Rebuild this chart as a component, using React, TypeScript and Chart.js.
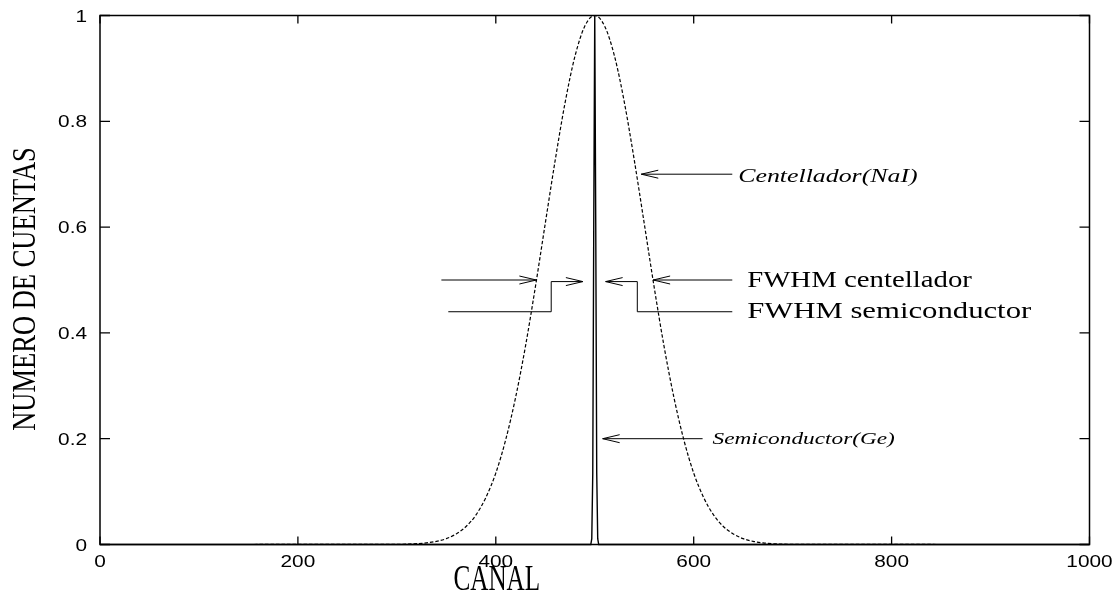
import React, { useEffect, useRef } from "react";
import { Chart, registerables } from "chart.js";

Chart.register(...registerables);

// ---- data ----
const naiChannels = [0, 300, 310, 320, 330, 340, 350, 360, 370, 380, 390, 400, 410, 420, 430, 440, 450, 460, 470, 480, 490, 500, 510, 520, 530, 540, 550, 560, 570, 580, 590, 600, 610, 620, 630, 640, 650, 660, 670, 680, 690, 700, 1000];
const naiCounts = [0, 0.0003, 0.0007, 0.0015, 0.0031, 0.006, 0.011, 0.02, 0.034, 0.056, 0.089, 0.135, 0.198, 0.278, 0.375, 0.487, 0.607, 0.726, 0.835, 0.923, 0.98, 1.0, 0.98, 0.923, 0.835, 0.726, 0.607, 0.487, 0.375, 0.278, 0.198, 0.135, 0.089, 0.056, 0.034, 0.02, 0.011, 0.006, 0.0031, 0.0015, 0.0007, 0.0003, 0];

const geChannels = [0, 490, 496, 497, 498, 499, 500, 501, 502, 503, 504, 510, 1000];
const geCounts = [0, 0, 0, 0.011, 0.135, 0.607, 1.0, 0.607, 0.135, 0.011, 0, 0, 0];

const xTicks = [0, 200, 400, 600, 800, 1000];
const xTickLabels = ["0", "200", "400", "600", "800", "1000"];
const yTicks = [0, 0.2, 0.4, 0.6, 0.8, 1];
const yTickLabels = ["0", "0.2", "0.4", "0.6", "0.8", "1"];

const xTitle = "CANAL";
const xTitleAt = 400;
const yTitle = "NUMERO DE CUENTAS";

// annotation arrows (polylines in data units, last point = arrow tip)
const arrowPaths: number[][][] = [
  [[345, 0.5], [441, 0.5]],
  [[639, 0.5], [559, 0.5]],
  [[352, 0.44], [456, 0.44], [456, 0.497], [488, 0.497]],
  [[639, 0.44], [543, 0.44], [543, 0.497], [511, 0.497]],
  [[639, 0.7], [547, 0.7]],
  [[609, 0.2], [508, 0.2]],
];

// annotation labels
const noteTexts = ["Centellador(NaI)", "Semiconductor(Ge)", "FWHM centellador", "FWHM semiconductor"];
const noteAnchors: number[][] = [[645, 0.685], [619, 0.19], [654, 0.487], [654, 0.428]];
const noteStyles = [
  { font: "italic 19px 'Liberation Serif'", sx: 1.36 },
  { font: "italic 17px 'Liberation Serif'", sx: 1.37 },
  { font: "24px 'Liberation Serif'", sx: 1.2 },
  { font: "24px 'Liberation Serif'", sx: 1.28 },
];

function drawScaledText(
  ctx: CanvasRenderingContext2D,
  text: string,
  x: number,
  y: number,
  font: string,
  sx: number,
  align: CanvasTextAlign,
  baseline: CanvasTextBaseline,
  rotate = 0
) {
  ctx.save();
  ctx.translate(x, y);
  if (rotate) ctx.rotate(rotate);
  ctx.scale(sx, 1);
  ctx.font = font;
  ctx.fillStyle = "#000";
  ctx.textAlign = align;
  ctx.textBaseline = baseline;
  ctx.fillText(text, 0, 0);
  ctx.restore();
}

const framePlugin = {
  id: "framePlugin",
  beforeDatasetsDraw(chart: any) {
    const { ctx, chartArea } = chart;
    const xs = chart.scales.x;
    const ys = chart.scales.y;
    const { left, right, top, bottom } = chartArea;
    ctx.save();
    ctx.strokeStyle = "#000";
    ctx.lineWidth = 1.5;
    ctx.strokeRect(left, top, right - left, bottom - top);
    ctx.lineWidth = 1.3;
    ctx.beginPath();
    xTicks.forEach((v) => {
      const px = xs.getPixelForValue(v);
      ctx.moveTo(px, bottom);
      ctx.lineTo(px, bottom - 8);
      ctx.moveTo(px, top);
      ctx.lineTo(px, top + 8);
    });
    yTicks.forEach((v) => {
      const py = ys.getPixelForValue(v);
      ctx.moveTo(left, py);
      ctx.lineTo(left + 10, py);
      ctx.moveTo(right, py);
      ctx.lineTo(right - 10, py);
    });
    ctx.stroke();
    ctx.restore();

    const tickFont = "16px 'Liberation Sans'";
    xTicks.forEach((v, i) => {
      drawScaledText(ctx, xTickLabels[i], xs.getPixelForValue(v), bottom + 22, tickFont, 1.3, "center", "alphabetic");
    });
    yTicks.forEach((v, i) => {
      drawScaledText(ctx, yTickLabels[i], left - 13, ys.getPixelForValue(v) + 6, tickFont, 1.3, "right", "alphabetic");
    });

    // axis titles
    drawScaledText(ctx, xTitle, xs.getPixelForValue(xTitleAt) + 1, bottom + 45, "35px 'Liberation Serif'", 0.72, "center", "alphabetic");
    drawScaledText(ctx, yTitle, 35, (top + bottom) / 2 + 9, "34px 'Liberation Serif'", 0.78, "center", "alphabetic", -Math.PI / 2);
  },
  afterDatasetsDraw(chart: any) {
    const { ctx } = chart;
    const xs = chart.scales.x;
    const ys = chart.scales.y;
    ctx.save();
    ctx.strokeStyle = "#000";
    ctx.lineWidth = 1;
    arrowPaths.forEach((path) => {
      const pts = path.map(([x, y]) => [xs.getPixelForValue(x), ys.getPixelForValue(y)]);
      ctx.beginPath();
      ctx.moveTo(pts[0][0], pts[0][1]);
      for (let i = 1; i < pts.length; i++) ctx.lineTo(pts[i][0], pts[i][1]);
      ctx.stroke();
      const [tx, ty] = pts[pts.length - 1];
      const [fx, fy] = pts[pts.length - 2];
      const ang = Math.atan2(ty - fy, tx - fx);
      const hl = 17;
      const hw = 4;
      const bx = tx - hl * Math.cos(ang);
      const by = ty - hl * Math.sin(ang);
      const nx = -Math.sin(ang) * hw;
      const ny = Math.cos(ang) * hw;
      ctx.beginPath();
      ctx.moveTo(bx + nx, by + ny);
      ctx.lineTo(tx, ty);
      ctx.lineTo(bx - nx, by - ny);
      ctx.stroke();
    });
    ctx.restore();
    noteTexts.forEach((t, i) => {
      const [x, y] = noteAnchors[i];
      drawScaledText(ctx, t, xs.getPixelForValue(x), ys.getPixelForValue(y), noteStyles[i].font, noteStyles[i].sx, "left", "alphabetic");
    });
  },
};

export default function App() {
  const canvasRef = useRef<HTMLCanvasElement | null>(null);

  useEffect(() => {
    const canvas = canvasRef.current;
    if (!canvas) return;
    const chart = new Chart(canvas, {
      type: "line",
      data: {
        datasets: [
          {
            label: "Centellador(NaI)",
            data: naiChannels.map((c, i) => ({ x: c, y: naiCounts[i] })),
            borderColor: "#000",
            borderWidth: 1.2,
            borderDash: [3.5, 2],
            pointRadius: 0,
            fill: false,
            cubicInterpolationMode: "monotone",
            clip: false,
          },
          {
            label: "Semiconductor(Ge)",
            data: geChannels.map((c, i) => ({ x: c, y: geCounts[i] })),
            borderColor: "#000",
            borderWidth: 1.4,
            pointRadius: 0,
            fill: false,
            tension: 0,
            clip: false,
          },
        ],
      },
      options: {
        animation: false,
        responsive: false,
        events: [],
        layout: { padding: { left: 100, right: 25.5, top: 15.5, bottom: 53.5 } },
        plugins: { legend: { display: false }, tooltip: { enabled: false } },
        scales: {
          x: { type: "linear", min: 0, max: 1000, display: false },
          y: { type: "linear", min: 0, max: 1, display: false },
        },
      },
      plugins: [framePlugin],
    } as any);
    return () => chart.destroy();
  }, []);

  return (
    <div style={{ position: "fixed", left: 0, top: 0, width: 1115, height: 598, background: "#fff" }}>
      <canvas ref={canvasRef} width={1115} height={598} style={{ display: "block" }} />
    </div>
  );
}
